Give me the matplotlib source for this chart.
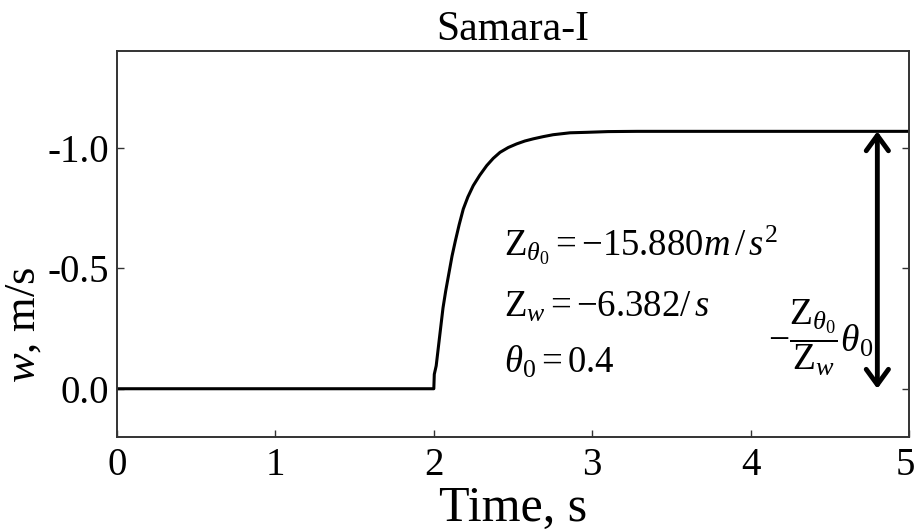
import matplotlib
matplotlib.use("Agg")
import matplotlib.pyplot as plt
import matplotlib.transforms as mtransforms

plt.rcParams["font.family"] = ["Liberation Serif", "DejaVu Serif"]
plt.rcParams["mathtext.fontset"] = "custom"
plt.rcParams["mathtext.rm"] = "Liberation Serif"
plt.rcParams["mathtext.it"] = "Liberation Serif:italic"
plt.rcParams["mathtext.bf"] = "Liberation Serif:bold"

# Vertical velocity response to a step in collective pitch at t = 2 s
time_s = [0.0, 2.000, 2.003, 2.015, 2.033, 2.058, 2.075, 2.094, 2.115, 2.136,
          2.160, 2.186, 2.215, 2.249, 2.290, 2.334, 2.375, 2.418, 2.470, 2.523,
          2.575, 2.628, 2.690, 2.753, 2.860, 2.967, 3.100, 3.283, 4.000, 5.000]
w_ms = [0.0, 0.0, -0.060, -0.095, -0.196, -0.335, -0.405, -0.474, -0.550, -0.613,
        -0.680, -0.745, -0.795, -0.842, -0.885, -0.925, -0.955, -0.980, -1.000, -1.015,
        -1.027, -1.036, -1.045, -1.053, -1.061, -1.063, -1.066, -1.067, -1.067, -1.067]

x_ticks = [0, 1, 2, 3, 4, 5]
y_ticks = [0.0, -0.5, -1.0]
y_tick_labels = ["0.0", "-0.5", "-1.0"]

arrow_time = 4.8
steady_w = w_ms[-1]

fig = plt.figure(figsize=(9.17, 5.32), dpi=100)
ax = fig.add_axes([0.1276, 0.1786, 0.8637, 0.7255])

ax.plot(time_s, w_ms, color="black", lw=2.2, solid_joinstyle="round")

ax.set_xlim(0, 5)
ax.set_ylim(0.2, -1.4)
ax.set_xticks(x_ticks)
ax.set_xticklabels([str(t) for t in x_ticks])
ax.set_yticks(y_ticks)
ax.set_yticklabels(y_tick_labels)

for s in ax.spines.values():
    s.set_linewidth(1.4)
    s.set_color("#333333")

ax.tick_params(axis="both", direction="in", length=5, width=1.0,
               color="#333333", labelsize=28)
ax.tick_params(axis="y", right=True, pad=6)
ax.tick_params(axis="x", pad=7)

# nudge the last time label so it stays inside the canvas
last = ax.get_xticklabels()[-1]
last.set_transform(last.get_transform() +
                   mtransforms.ScaledTranslation(-4 / 100, 0, fig.dpi_scale_trans))

ax.set_title("Samara-I", fontsize=30, pad=8)
ax.set_xlabel("Time, s", fontsize=36, labelpad=1)

# y label: italic w followed by the unit
fig.text(0.038, 0.280, r"$w$, m/s", fontsize=32, rotation=90,
         rotation_mode="anchor", ha="left", va="baseline")

ax.text(2.44, -0.55, r"$\mathrm{Z}_{\theta_0}=-15.880m\,/\,s^2$",
        fontsize=26.5, ha="left", va="baseline")
ax.text(2.44, -0.30, r"$\mathrm{Z}_w=-6.382/\,s$",
        fontsize=26.5, ha="left", va="baseline")
ax.text(2.44, -0.065, r"$\theta_0=0.4$",
        fontsize=26.5, ha="left", va="baseline")

ax.annotate("", xy=(arrow_time, steady_w), xytext=(arrow_time, 0.0),
            arrowprops=dict(arrowstyle="<->,head_length=0.55,head_width=0.4",
                            lw=3.5, color="black", mutation_scale=20,
                            shrinkA=0, shrinkB=0))
ax.text(arrow_time - 0.36, -0.21,
        r"$-\dfrac{\mathrm{Z}_{\theta_0}}{\mathrm{Z}_w}\theta_0$",
        fontsize=27, ha="center", va="center")

fig.savefig("out.png", dpi=100)
